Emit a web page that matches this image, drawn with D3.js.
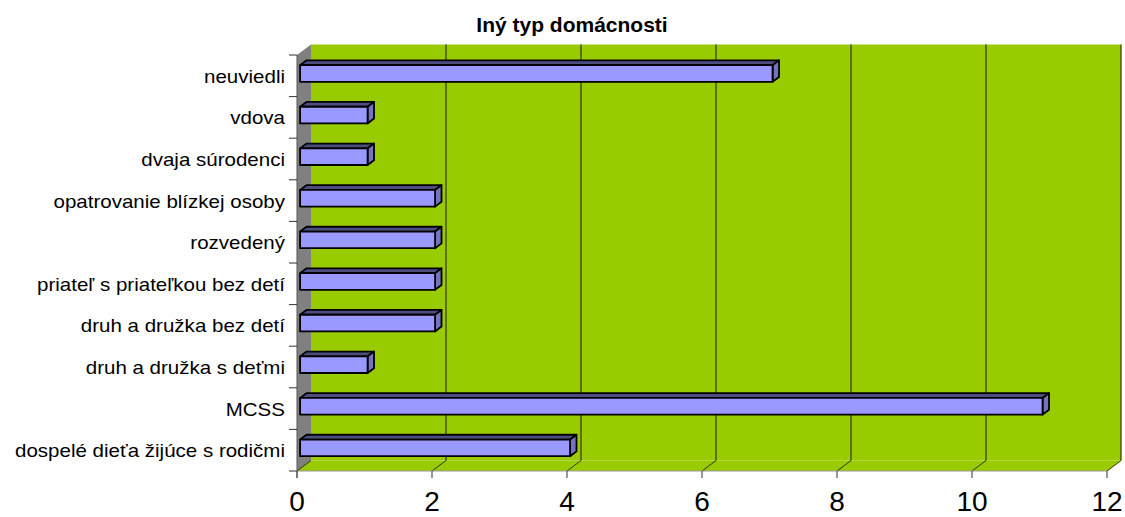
<!DOCTYPE html>
<html><head><meta charset="utf-8">
<script src="https://cdn.jsdelivr.net/npm/d3@7"></script>
<style>html,body{margin:0;padding:0;background:#fff;}svg{display:block;font-family:"Liberation Sans",Arial,sans-serif;}</style>
</head><body><svg id="c" width="1125" height="517"></svg>
<script>
const title = "Iný typ domácnosti";
const categories = ["neuviedli","vdova","dvaja súrodenci","opatrovanie blízkej osoby","rozvedený","priateľ s priateľkou bez detí","druh a družka bez detí","druh a družka s deťmi","MCSS","dospelé dieťa žijúce s rodičmi"];
const values = [7,1,1,2,2,2,2,1,11,4];
const xTicks = [0,2,4,6,8,10,12];

const svg = d3.select("#c");
const x = d3.scaleLinear().domain([0,12]).range([297,1107]);
const y = d3.scaleBand().domain(categories).range([55,471]);
const DX = 14, DY = -10.5;          // depth vector
const f1 = 0.22, f2 = 0.68;         // bar depth fractions
const barFrac = 0.40;
const yTop = y.range()[0], yBot = y.range()[1];
const pts = a => a.map(p => p.join(",")).join(" ");

// left wall
svg.append("polygon").attr("points", pts([[x(0),yTop],[x(0)+DX,yTop+DY],[x(0)+DX,yBot+DY],[x(0),yBot]]))
  .attr("fill","#808080");
// floor
svg.append("polygon").attr("points", pts([[x(0),yBot],[x(12),yBot],[x(12)+DX,yBot+DY],[x(0)+DX,yBot+DY]]))
  .attr("fill","#99CC00");
// back wall
svg.append("rect").attr("x",x(0)+DX).attr("y",yTop+DY).attr("width",x(12)-x(0)).attr("height",yBot-yTop).attr("fill","#99CC00");
// gridlines on back wall + floor diagonals
xTicks.forEach(t=>{
  if(t>0){
    svg.append("line").attr("x1",x(t)+DX).attr("x2",x(t)+DX).attr("y1",yTop+DY).attr("y2",yBot+DY)
      .attr("stroke","#333300").attr("stroke-width",1.2);
  }
  svg.append("line").attr("x1",x(t)).attr("y1",yBot).attr("x2",x(t)+DX).attr("y2",yBot+DY)
    .attr("stroke","#333300").attr("stroke-width",1);
});
// floor front edge
svg.append("line").attr("x1",x(0)).attr("x2",x(12)).attr("y1",yBot).attr("y2",yBot).attr("stroke","#999").attr("stroke-width",1);
// left axis line and ticks
svg.append("line").attr("x1",x(0)).attr("x2",x(0)).attr("y1",yTop).attr("y2",yBot+7).attr("stroke","#555").attr("stroke-width",1);
categories.forEach((c,i)=>{
  svg.append("line").attr("x1",x(0)-8).attr("x2",x(0)).attr("y1",y(c)).attr("y2",y(c)).attr("stroke","#333").attr("stroke-width",1);
});
svg.append("line").attr("x1",x(0)-8).attr("x2",x(0)).attr("y1",yBot).attr("y2",yBot).attr("stroke","#333").attr("stroke-width",1);

// bottom axis ticks and labels
const ax = svg.append("g");
xTicks.forEach(t=>{
  ax.append("line").attr("x1",x(t)).attr("x2",x(t)).attr("y1",yBot).attr("y2",yBot+7).attr("stroke","#555").attr("stroke-width",1.2);
  ax.append("text").attr("x",x(t)).attr("y",511).attr("text-anchor","middle").attr("font-size",28).attr("fill","#000").text(t);
});

// category labels (horizontally stretched like the reference)
categories.forEach(c=>{
  svg.append("text").attr("transform",`translate(285,${y(c)+y.bandwidth()/2+7}) scale(1.14,1)`)
    .attr("text-anchor","end").attr("font-size",18).attr("fill","#000").text(c);
});

// bars
const bh = y.bandwidth()*barFrac;
categories.forEach((c,i)=>{
  const v = values[i];
  const cy = y(c)+y.bandwidth()/2;
  const ax0 = x(0)+f1*DX, ay = f1*DY;
  const bx0 = x(0)+f2*DX, by = f2*DY;
  const xe = x(v)-x(0);
  const t0 = cy-bh/2, b0 = cy+bh/2;
  const g = svg.append("g").attr("stroke","#000").attr("stroke-width",1.8).attr("stroke-linejoin","round");
  g.append("polygon").attr("points",pts([[ax0,t0+ay],[ax0+xe,t0+ay],[bx0+xe,t0+by],[bx0,t0+by]])).attr("fill","#4D4D80");
  g.append("polygon").attr("points",pts([[ax0+xe,t0+ay],[bx0+xe,t0+by],[bx0+xe,b0+by],[ax0+xe,b0+ay]])).attr("fill","#7373BF");
  g.append("rect").attr("x",ax0).attr("y",t0+ay).attr("width",xe).attr("height",bh).attr("fill","#9999FF");
});

// title
svg.append("text").attr("transform","translate(572,32) scale(1.05,1)").attr("text-anchor","middle")
  .attr("font-size",20).attr("font-weight","bold").text(title);
</script></body></html>
